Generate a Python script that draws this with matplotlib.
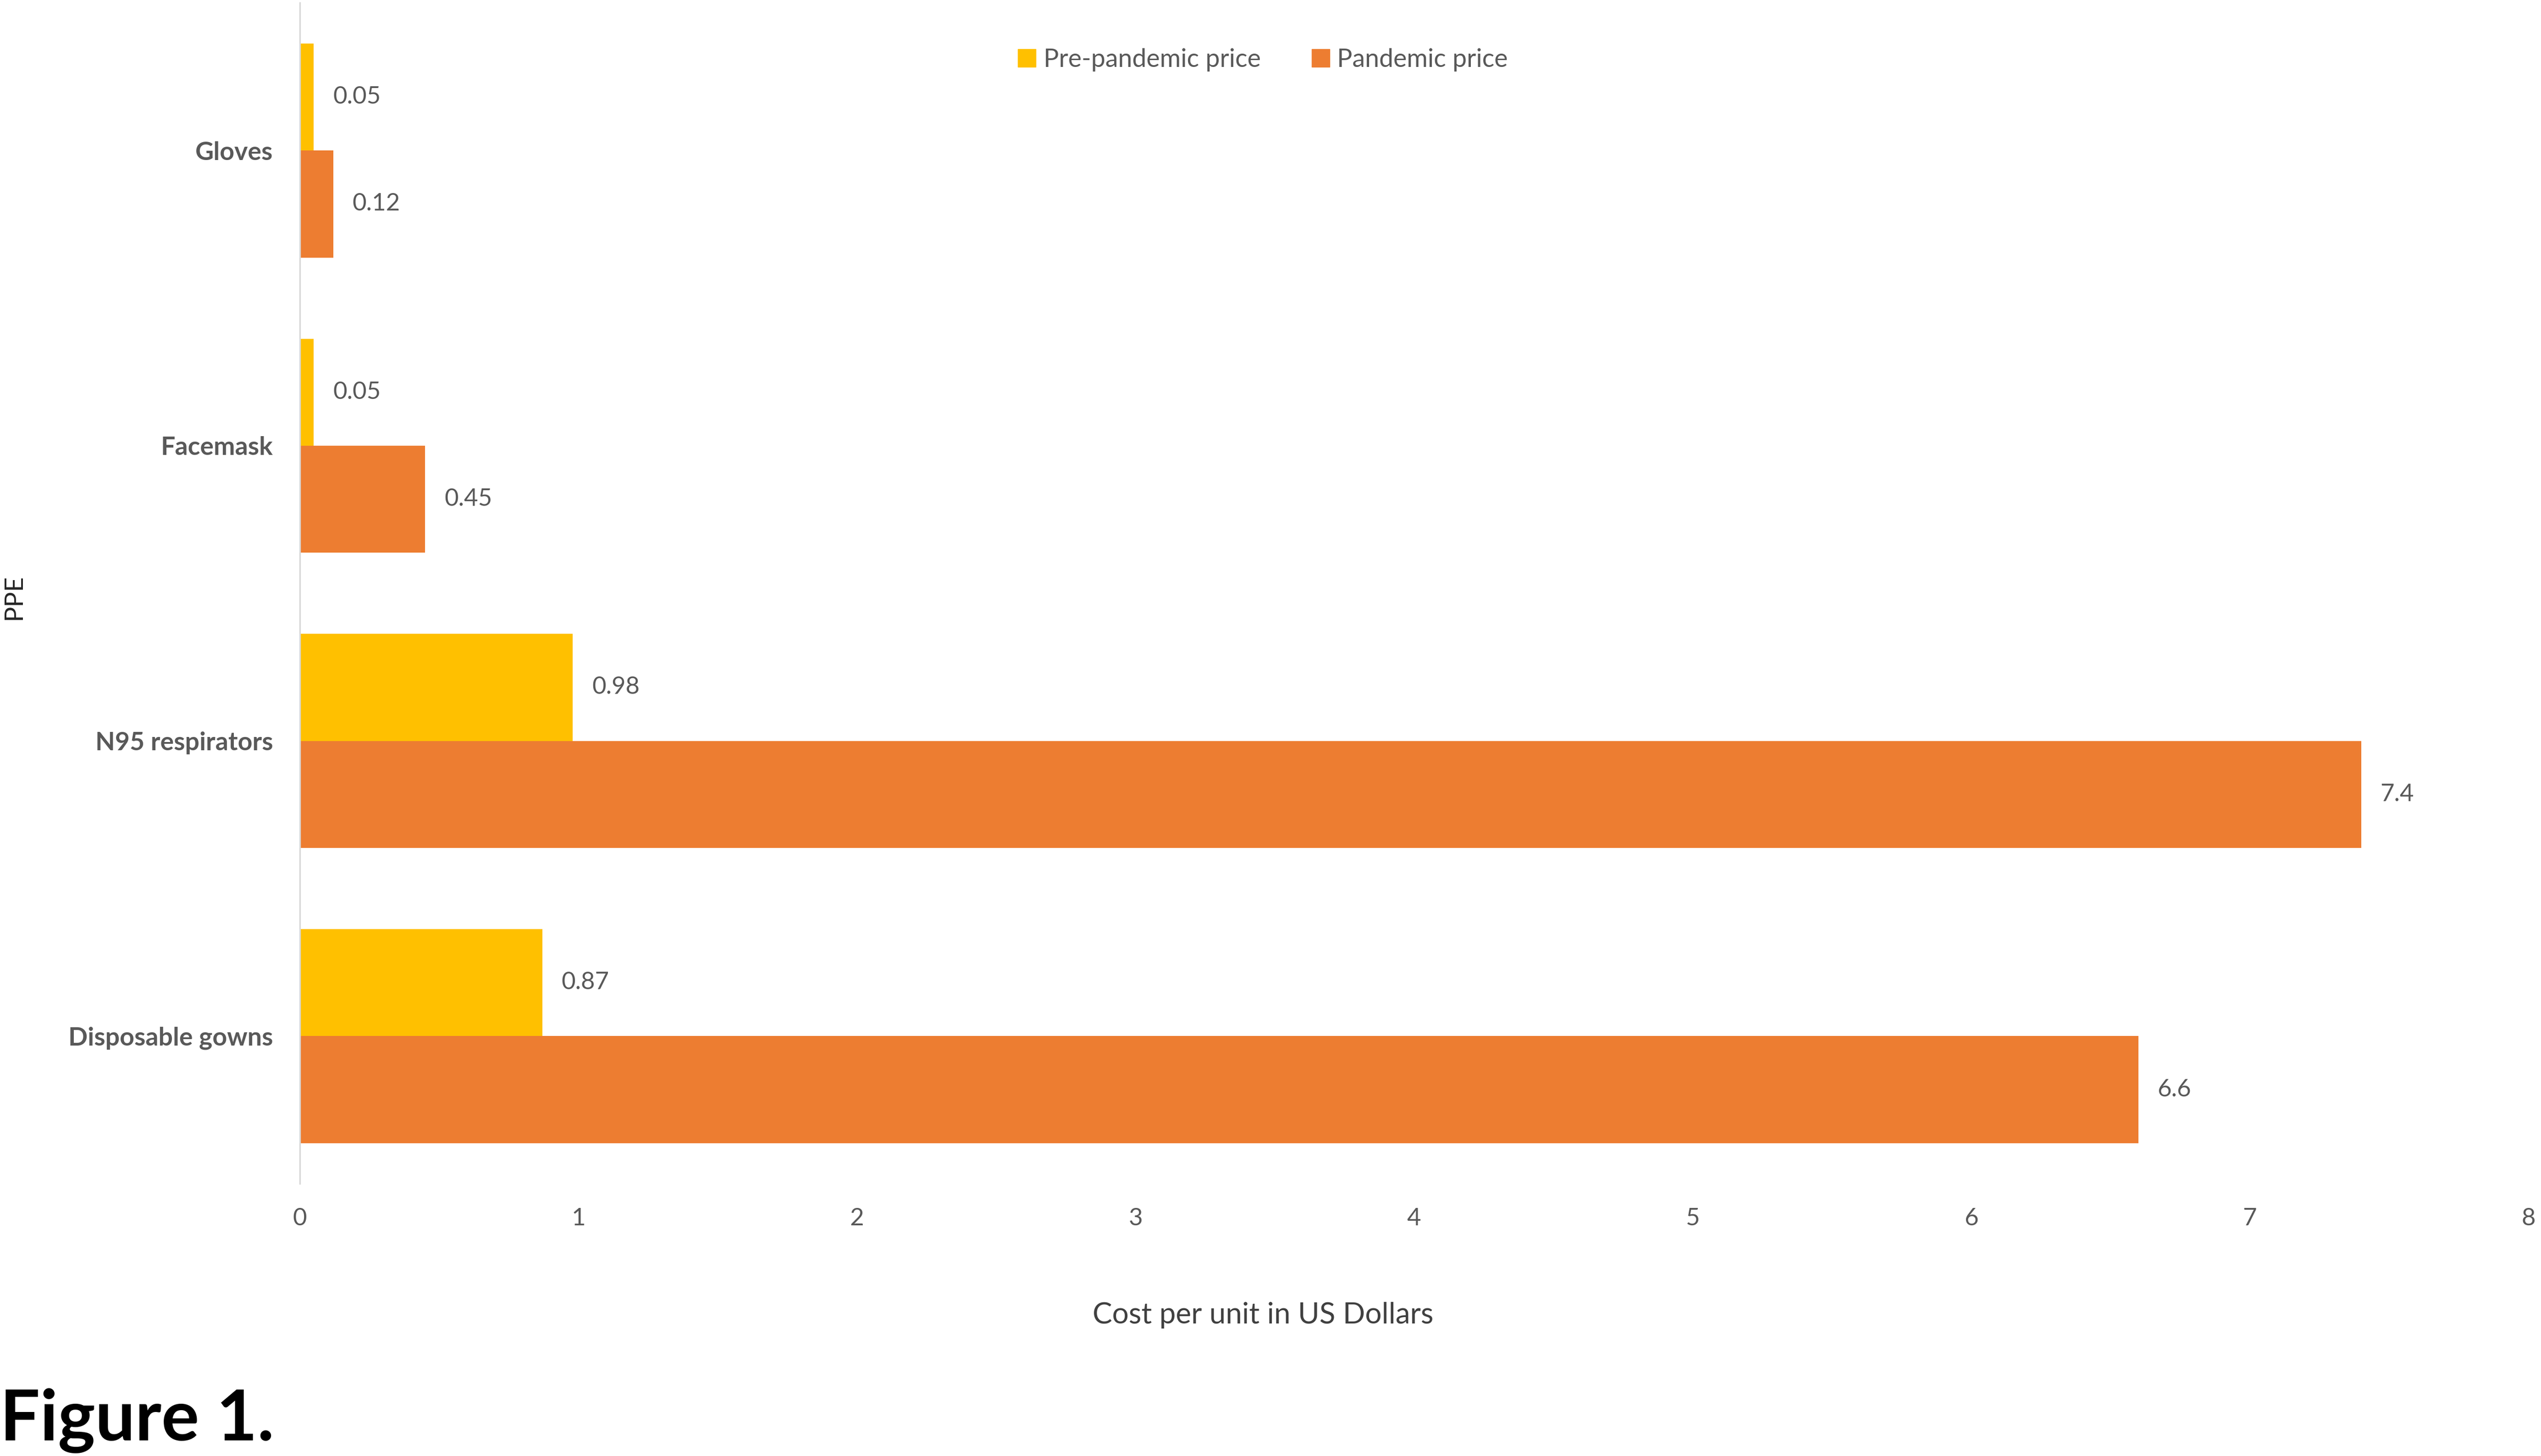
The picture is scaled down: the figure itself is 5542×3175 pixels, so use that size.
import numpy as np
import matplotlib.pyplot as plt
from matplotlib.patches import Patch

#-----Data-----#
categories = ['Disposable gowns', 'N95 respirators', 'Facemask', 'Gloves']
pre_pandemic = [0.87, 0.98, 0.05, 0.05]
pandemic = [6.6, 7.4, 0.45, 0.12]
pre_labels = ['0.87', '0.98', '0.05', '0.05']
pan_labels = ['6.6', '7.4', '0.45', '0.12']
x_ticks = [0, 1, 2, 3, 4, 5, 6, 7, 8]

#-----Style-----#
plt.rcParams['font.family'] = ['Lato', 'DejaVu Sans']
yellow = '#FFC000'
orange = '#ED7D31'
gray = '#595959'

fig = plt.figure(figsize=(55.42, 31.75), dpi=100)
ax = fig.add_axes([0.118, 0.187, 0.877, 0.811])

y = np.arange(len(categories))
h = 0.3626
bars_pre = ax.barh(y + h / 2, pre_pandemic, height=h, color=yellow)
bars_pan = ax.barh(y - h / 2, pandemic, height=h, color=orange)

#-----Data labels-----#
for bars, labels in [(bars_pre, pre_labels), (bars_pan, pan_labels)]:
    for b, lab in zip(bars, labels):
        ax.annotate(lab, (b.get_width(), b.get_y() + b.get_height() / 2),
                    xytext=(30, 0), textcoords='offset points',
                    ha='left', va='center', fontsize=38, color=gray)

ax.set_xlim(0, 8)
ax.set_ylim(-0.5, 3.5)
ax.set_xticks(x_ticks)
ax.set_xticklabels([str(t) for t in x_ticks], fontsize=38, color=gray)
ax.set_yticks(y)
ax.set_yticklabels(categories, fontsize=40, color=gray, fontweight='bold')
ax.tick_params(axis='x', length=0, pad=38)
ax.tick_params(axis='y', length=0, pad=42)
for t in ax.get_xticklabels():
    t.set_clip_on(False)

for s in ['top', 'right', 'bottom']:
    ax.spines[s].set_visible(False)
ax.spines['left'].set_color('#D9D9D9')
ax.spines['left'].set_linewidth(2.5)

#-----Axis titles-----#
fig.text(0.497, 0.0967, 'Cost per unit in US Dollars', ha='center', va='center',
         fontsize=46, color='#404040')
fig.text(0.0055, 0.59, 'PPE', rotation=90, ha='center', va='center',
         fontsize=40, color='#262626')
fig.text(0.0, 0.0107, 'Figure 1.', ha='left', va='baseline',
         fontsize=111, fontweight='bold', color='black')

#-----Legend-----#
handles = [Patch(color=yellow, label='Pre-pandemic price'),
           Patch(color=orange, label='Pandemic price')]
fig.legend(handles=handles, loc='center', bbox_to_anchor=(0.497, 0.959),
           ncol=2, frameon=False, fontsize=40, labelcolor=gray,
           handlelength=0.7, handleheight=0.7, handletextpad=0.3,
           columnspacing=2.0)

fig.savefig('out.png', dpi=100)
